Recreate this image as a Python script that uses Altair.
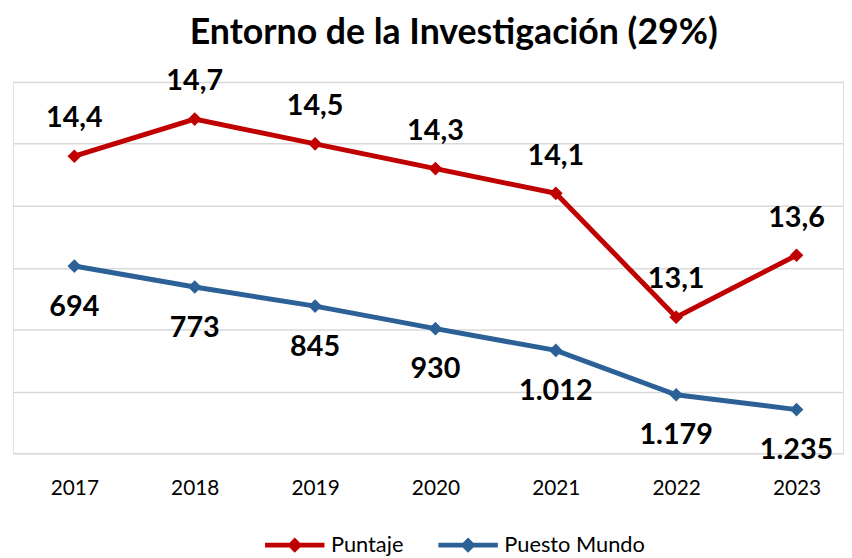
import altair as alt
import pandas as pd

years = [2017, 2018, 2019, 2020, 2021, 2022, 2023]
puntaje = [14.4, 14.7, 14.5, 14.3, 14.1, 13.1, 13.6]
puesto = [694, 773, 845, 930, 1012, 1179, 1235]
series = ["Puntaje", "Puesto Mundo"]
colors = ["#C00000", "#2B6197"]
grid_values = [12.0, 12.5, 13.0, 13.5, 14.0, 14.5, 15.0]

def fmt_dec(v):
    return f"{v:.1f}".replace(".", ",")

def fmt_int(v):
    return f"{v:,}".replace(",", ".")

rows = []
for y, p in zip(years, puntaje):
    rows.append({"year": y, "serie": series[0], "value": p, "label": fmt_dec(p)})
for y, p in zip(years, puesto):
    rows.append({"year": y, "serie": series[1], "value": p, "label": fmt_int(p)})
df = pd.DataFrame(rows)

FONT = "Lato"

legend_path = "M-1,0L1,0M-0.14,0L0,-0.14L0.14,0L0,0.14Z"

color = alt.Color(
    "serie:N",
    scale=alt.Scale(domain=series, range=colors),
    sort=series,
    legend=alt.Legend(
        title=None,
        orient="none",
        direction="horizontal",
        legendX=252,
        legendY=435,
        symbolType=legend_path,
        symbolSize=3600,
        symbolStrokeWidth=5,
        labelFont=FONT,
        labelFontSize=22,
        labelColor="#000000",
        labelOffset=4,
        columnPadding=24,
    ),
)

x = alt.X(
    "year:Q",
    scale=alt.Scale(domain=[2016.49, 2023.386], nice=False, zero=False),
    axis=alt.Axis(
        title=None,
        values=years,
        format="d",
        grid=False,
        ticks=False,
        domain=False,
        labelFont=FONT,
        labelFontSize=21,
        labelColor="#000000",
        labelPadding=25,
        labelFlush=False,
    ),
)

base = alt.Chart(df)

red_y = alt.Y(
    "value:Q",
    scale=alt.Scale(domain=[12, 15], nice=False, zero=False),
    axis=alt.Axis(
        title=None,
        values=grid_values,
        labels=False,
        ticks=False,
        domain=False,
        grid=True,
        gridColor="#D9D9D9",
        gridWidth=1.5,
    ),
)
red_base = base.transform_filter(alt.datum.serie == series[0])
red = alt.layer(
    red_base.mark_line(strokeWidth=5, point=alt.OverlayMarkDef(shape="diamond", size=190, filled=True, opacity=1)).encode(
        x=x, y=red_y, color=color
    ),
    red_base.mark_text(font=FONT, fontSize=29, fontWeight="bold", dy=-38, baseline="middle", color="#000000").encode(
        x=x, y=red_y, text="label:N"
    ),
)

blue_y = alt.Y(
    "value:Q",
    scale=alt.Scale(domain=[0, 1400], reverse=True, nice=False),
    axis=None,
)
blue_base = base.transform_filter(alt.datum.serie == series[1])
blue = alt.layer(
    blue_base.mark_line(strokeWidth=5, point=alt.OverlayMarkDef(shape="diamond", size=190, filled=True, opacity=1)).encode(
        x=x, y=blue_y, color=color
    ),
    blue_base.mark_text(font=FONT, fontSize=29, fontWeight="bold", dy=41, baseline="middle", color="#000000").encode(
        x=x, y=blue_y, text="label:N"
    ),
)

chart = (
    alt.layer(red, blue)
    .resolve_scale(y="independent")
    .properties(
        width=838,
        height=375,
        padding={"left": 5, "top": 72, "right": 1, "bottom": 102},
        autosize=alt.AutoSizeParams(type="none"),
        title=alt.TitleParams(
            "Entorno de la Investigación (29%)",
            font=FONT,
            fontSize=36,
            fontWeight="bold",
            color="#000000",
            anchor="middle",
            dx=26,
            offset=16,
        ),
    )
    .configure_view(stroke=None)
    .configure(background="white")
)

chart.save("out.html", embed_options={"renderer": "svg", "actions": False})
